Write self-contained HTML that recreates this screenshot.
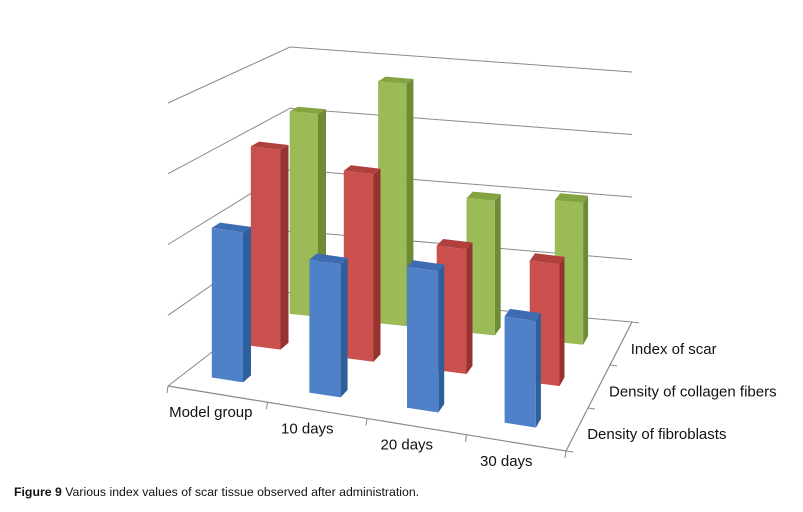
<!DOCTYPE html>
<html><head><meta charset="utf-8"><style>
html,body{margin:0;padding:0;background:#fff;width:803px;height:512px;overflow:hidden}
svg{display:block}
text{font-family:"Liberation Sans",Arial,sans-serif}
</style></head><body>
<svg id="chart" width="803" height="512" viewBox="0 0 803 512" xmlns="http://www.w3.org/2000/svg">
<g id="grid"></g>
<g id="bars"></g>
<g id="labels"></g>
<text x="14" y="496" font-size="12.3" fill="#111"><tspan font-weight="bold">Figure 9</tspan> Various index values of scar tissue observed after administration.</text>
</svg>
<script>
const categories = ["Model group", "10 days", "20 days", "30 days"];
const seriesNames = ["Density of fibroblasts", "Density of collagen fibers", "Index of scar"];
const fibroblasts = [2.15, 1.9, 2.0, 1.5];
const collagen = [3.0, 2.8, 1.85, 1.8];
const scar = [3.2, 3.8, 2.1, 2.2];
const yTicks = [0, 1, 2, 3, 4];
const yMax = 4;

const NS = "http://www.w3.org/2000/svg";
const FL = [168, 386], FR = [566, 451], BR = [632, 322], BL = [290, 292];
const HFL = 283, HFR = 290, HBL = 245, HBR = 250;
function lerp(a, b, t) { return a + (b - a) * t; }
function proj(u, v, val) {
  const fx = lerp(FL[0], FR[0], u), fy = lerp(FL[1], FR[1], u);
  const bx = lerp(BL[0], BR[0], u), by = lerp(BL[1], BR[1], u);
  const x = lerp(fx, bx, v), y0 = lerp(fy, by, v);
  const h = lerp(lerp(HFL, HFR, u), lerp(HBL, HBR, u), v);
  return [x, y0 - h * val / yMax];
}
function xScale(i) { return 0.11 + i * 0.25; }
function zScale(s) { return 0.17 + s * 0.33; }
function mk(tag, attrs, parent) {
  const e = document.createElementNS(NS, tag);
  for (const k in attrs) e.setAttribute(k, attrs[k]);
  parent.appendChild(e); return e;
}
function pts(a) { return a.map(p => p[0].toFixed(1) + "," + p[1].toFixed(1)).join(" "); }

const grid = document.getElementById("grid");
yTicks.forEach((t, i) => {
  const a = proj(0, 0, t), b = proj(0, 1, t), c = proj(1, 1, t);
  const l = mk("polyline", { points: pts([a, b, c]), fill: "none", stroke: "#8a8a8a", "stroke-width": 1 }, grid);
  
  
});
const floor = mk("polyline", { points: pts([proj(0, 0, 0), proj(1, 0, 0), proj(1, 1, 0)]), fill: "none", stroke: "#8a8a8a", "stroke-width": 1.2 }, grid);


for (let i = 0; i <= categories.length; i++) {
  const p = proj(i / categories.length, 0, 0);
  const tk = mk("line", { x1: p[0], y1: p[1], x2: p[0] - 1, y2: p[1] + 7, stroke: "#8a8a8a" }, grid);
  
  
}
for (let s = 0; s <= seriesNames.length; s++) {
  const p = proj(1, s / seriesNames.length, 0);
  const tk = mk("line", { x1: p[0], y1: p[1], x2: p[0] + 7, y2: p[1] + 1, stroke: "#8a8a8a" }, grid);
  
  
}

const colors = [
  { front: "#4f81c8", side: "#2f5e9c", top: "#3d6cb0" },
  { front: "#c9504c", side: "#953330", top: "#b0403c" },
  { front: "#9bbb57", side: "#6e8c35", top: "#84a443" }
];
const series = [fibroblasts, collagen, scar];
const bars = document.getElementById("bars");
const bw = 0.08, bd = 0.07;
for (let s = series.length - 1; s >= 0; s--) {
  for (let i = 0; i < categories.length; i++) {
    const val = series[s][i];
    const u0 = xScale(i) - bw / 2, u1 = xScale(i) + bw / 2;
    const v0 = zScale(s) - bd / 2, v1 = zScale(s) + bd / 2;
    const g = mk("g", {}, bars);
    
    
    mk("polygon", { points: pts([proj(u1, v0, 0), proj(u1, v1, 0), proj(u1, v1, val), proj(u1, v0, val)]), fill: colors[s].side }, g);
    mk("polygon", { points: pts([proj(u0, v0, val), proj(u1, v0, val), proj(u1, v1, val), proj(u0, v1, val)]), fill: colors[s].top }, g);
    mk("polygon", { points: pts([proj(u0, v0, 0), proj(u1, v0, 0), proj(u1, v0, val), proj(u0, v0, val)]), fill: colors[s].front }, g);
  }
}

const labels = document.getElementById("labels");
categories.forEach((c, i) => {
  const p = proj(xScale(i), 0, 0);
  const t = mk("text", { x: p[0] - 4 + (i === 0 ? 3 : 0), y: p[1] + 24, "font-size": 15, "text-anchor": "middle", fill: "#111" }, labels);
  t.textContent = c;
  
  
});
seriesNames.forEach((n, s) => {
  const p = proj(1, zScale(s), 0);
  const t = mk("text", { x: p[0] + 10, y: p[1] + 10, "font-size": 15, fill: "#111" }, labels);
  t.textContent = n;
  
  
});
</script>
</body></html>
